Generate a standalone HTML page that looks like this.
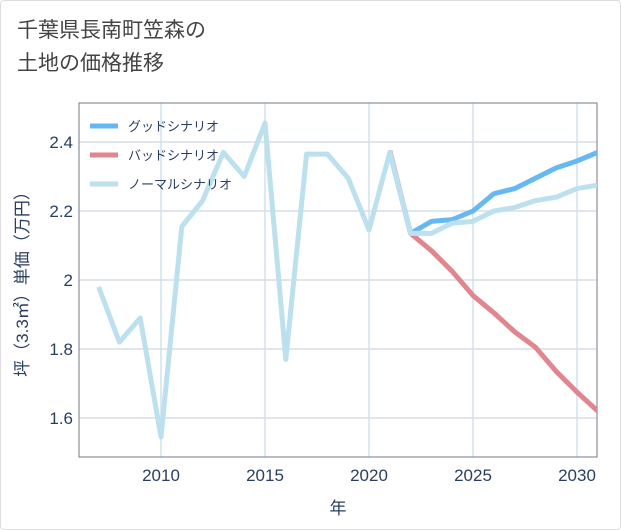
<!DOCTYPE html>
<html><head><meta charset="utf-8"><style>
body{margin:0;background:#fff;font-family:"Liberation Sans","Noto Sans CJK JP",sans-serif;}
#card{position:absolute;left:0;top:0;width:619px;height:528px;border:1px solid #ddd;border-radius:4px;background:#fff}
#title{position:absolute;left:17px;top:14px;font-size:21px;line-height:33px;color:#444;}
</style></head><body>
<div id="card"></div>
<div id="title">千葉県長南町笠森の<br>土地の価格推移</div>
<svg id="chart" width="621" height="530" style="position:absolute;left:0;top:0"></svg>
<script>
const years=[2007,2008,2009,2010,2011,2012,2013,2014,2015,2016,2017,2018,2019,2020,2021,2022,2023,2024,2025,2026,2027,2028,2029,2030,2031];
const normal=[1.98,1.82,1.89,1.545,2.155,2.23,2.37,2.30,2.455,1.77,2.365,2.365,2.295,2.145,2.37,2.135,2.135,2.165,2.17,2.20,2.21,2.23,2.24,2.265,2.275];
const goodYears=[2021,2022,2023,2024,2025,2026,2027,2028,2029,2030,2031];
const good=[2.37,2.135,2.17,2.175,2.20,2.25,2.265,2.295,2.325,2.345,2.37];
const bad=[2.375,2.135,2.085,2.025,1.955,1.905,1.85,1.805,1.735,1.675,1.62];
const xTicks=[2010,2015,2020,2025,2030];
const yTicks=[1.6,1.8,2.0,2.2,2.4];
const yTickLabels=["1.6","1.8","2","2.2","2.4"];
const L=79,R=597,T=103,B=457;
const x=v=>161+(v-2010)*20.8;
const y=v=>280-(v-2.0)*345;
const svg=document.getElementById('chart');
const NS='http://www.w3.org/2000/svg';
function mk(tag,attrs,parent){const e=document.createElementNS(NS,tag);for(const k in attrs)e.setAttribute(k,attrs[k]);(parent||svg).appendChild(e);return e;}
yTicks.forEach((v,i)=>{
 const g=mk('line',{x1:L,x2:R,y1:y(v),y2:y(v),stroke:'#d5dde6','stroke-width':1.5});
 
 
 const t=mk('text',{x:L-6,y:y(v)+6,'text-anchor':'end','font-size':17,fill:'#2a3f5f'});
 t.textContent=yTickLabels[i];
 
 
});
xTicks.forEach(v=>{
 const g=mk('line',{x1:x(v),x2:x(v),y1:T,y2:B,stroke:'#cde2ee','stroke-width':1.5});
 
 
 const t=mk('text',{x:x(v),y:B+24,'text-anchor':'middle','font-size':17,fill:'#2a3f5f'});
 t.textContent=v;
 
 
});
const frame=mk('rect',{x:L,y:T,width:R-L,height:B-T,fill:'none',stroke:'#8a9099','stroke-width':1.2});


const clip=mk('clipPath',{id:'cp'});mk('rect',{x:L,y:T,width:R-L,height:B-T},clip);
function line(xs,ys,color,name){
 const p=mk('polyline',{points:xs.map((v,i)=>x(v)+','+y(ys[i])).join(' '),fill:'none',stroke:color,'stroke-width':5,'stroke-linejoin':'round','clip-path':'url(#cp)'});
 
 
}
line(goodYears,bad,'#e0868e','bad-scenario-line');
line(goodYears,good,'#66b8f2','good-scenario-line');
line(years,normal,'#bde0ee','normal-scenario-line');
const leg=[['グッドシナリオ','#66b8f2'],['バッドシナリオ','#e0868e'],['ノーマルシナリオ','#bde0ee']];
leg.forEach((d,i)=>{
 const yy=126+i*29;
 const s=mk('line',{x1:90,x2:118,y1:yy,y2:yy,stroke:d[1],'stroke-width':5});
 
 
 const t=mk('text',{x:128,y:yy+5,'font-size':13,fill:'#2a3f5f'});
 t.textContent=d[0];
 
 
});
const yt=mk('text',{x:0,y:0,transform:'translate(28,280) rotate(-90)','text-anchor':'middle','font-size':17,fill:'#2a3f5f'});
yt.textContent='坪（3.3㎡）単価（万円）';


const xt=mk('text',{x:338,y:514,'text-anchor':'middle','font-size':17,fill:'#2a3f5f'});
xt.textContent='年';


</script>
</body></html>
